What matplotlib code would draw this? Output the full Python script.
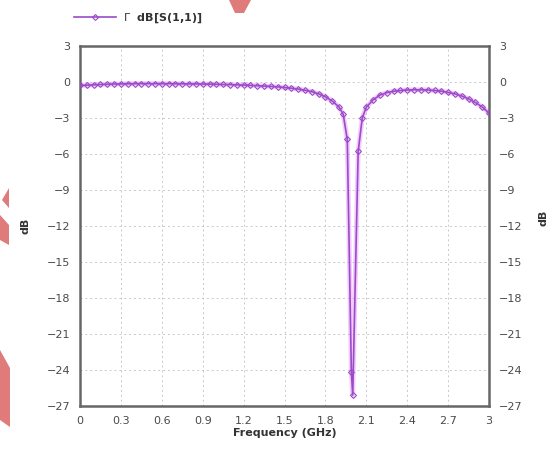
import numpy as np
import matplotlib
matplotlib.use('Agg')
import matplotlib.pyplot as plt
from matplotlib.patches import Polygon

# ============================================================
# 数据
# ============================================================
freq_ghz = [0.00, 0.05, 0.10, 0.15, 0.20, 0.25, 0.30, 0.35, 0.40, 0.45,
            0.50, 0.55, 0.60, 0.65, 0.70, 0.75, 0.80, 0.85, 0.90, 0.95,
            1.00, 1.05, 1.10, 1.15, 1.20, 1.25, 1.30, 1.35, 1.40, 1.45,
            1.50, 1.55, 1.60, 1.65, 1.70, 1.75, 1.80, 1.85, 1.90, 1.93,
            1.96, 1.99, 2.00, 2.04, 2.07, 2.10, 2.15, 2.20, 2.25, 2.30,
            2.35, 2.40, 2.45, 2.50, 2.55, 2.60, 2.65, 2.70, 2.75, 2.80,
            2.85, 2.90, 2.95, 3.00]
s11_db = [-0.30, -0.28, -0.25, -0.22, -0.20, -0.18, -0.17, -0.16, -0.15, -0.15,
          -0.15, -0.15, -0.15, -0.15, -0.16, -0.16, -0.17, -0.17, -0.18, -0.19,
          -0.20, -0.22, -0.23, -0.25, -0.27, -0.29, -0.32, -0.35, -0.38, -0.42,
          -0.47, -0.53, -0.60, -0.70, -0.82, -1.00, -1.25, -1.60, -2.10, -2.70,
          -4.80, -24.2, -26.1, -5.80, -3.00, -2.10, -1.50, -1.10, -0.90, -0.78,
          -0.72, -0.68, -0.66, -0.66, -0.68, -0.72, -0.78, -0.88, -1.00, -1.18,
          -1.42, -1.72, -2.10, -2.60]

x_ticks = [0, 0.3, 0.6, 0.9, 1.2, 1.5, 1.8, 2.1, 2.4, 2.7, 3]
x_labels = ['0', '0.3', '0.6', '0.9', '1.2', '1.5', '1.8', '2.1', '2.4', '2.7', '3']
y_ticks = [3, 0, -3, -6, -9, -12, -15, -18, -21, -24, -27]

LINE_COLOR = '#9a4cc6'
GLOW_COLOR = '#e88cff'
TEXT_COLOR = '#4a4a4a'

fig = plt.figure(figsize=(5.52, 4.54), dpi=100, facecolor='white')
ax = fig.add_axes([0.145, 0.106, 0.741, 0.793])

ax.plot(freq_ghz, s11_db, color=GLOW_COLOR, lw=3.5, alpha=0.45,
        solid_capstyle='round', zorder=2)
ax.plot(freq_ghz, s11_db, color=LINE_COLOR, lw=1.2, marker='D', ms=3,
        mfc='none', mec=LINE_COLOR, mew=0.8, zorder=3,
        label=r'$\Gamma$  dB[S(1,1)]')

ax.set_xlim(0, 3)
ax.set_ylim(-27, 3)
ax.set_xticks(x_ticks)
ax.set_xticklabels(x_labels)
ax.set_yticks(y_ticks)
ax.grid(True, color='#c8c8c8', ls=(0, (2, 3)), lw=0.7)
ax.tick_params(length=0, labelsize=8, labelcolor=TEXT_COLOR, pad=7,
               labelright=True)
for sp in ax.spines.values():
    sp.set_color('#666666')
    sp.set_linewidth(1.8)

ax.set_xlabel('Frequency (GHz)', fontsize=8, fontweight='bold',
              color='#333333', labelpad=2)
ax.set_ylabel('dB', fontsize=8, fontweight='bold', color='#333333', labelpad=12)
fig.text(0.985, 0.52, 'dB', rotation=90, fontsize=8, fontweight='bold',
         color='#333333', ha='center', va='center')

leg = ax.legend(loc='lower left', bbox_to_anchor=(-0.025, 1.045), frameon=False,
                handlelength=3.8, handletextpad=0.6, borderaxespad=0,
                prop={'size': 8, 'weight': 'bold'})
for t in leg.get_texts():
    t.set_color('#333333')

# 背景上的红色装饰块
W, H = 552, 454
red = '#e07b7b'
shapes = [
    [(229, 0), (251, 0), (244, 13), (235, 13)],
    [(9, 188), (2, 200), (9, 208)],
    [(0, 215), (9, 225), (9, 245), (0, 240)],
    [(0, 350), (10, 368), (10, 427), (0, 420)],
]
for pts in shapes:
    fig.patches.append(Polygon([(x / W, 1 - y / H) for x, y in pts],
                               closed=True, transform=fig.transFigure,
                               facecolor=red, edgecolor='none'))

fig.savefig('out.png', dpi=100, facecolor='white')
